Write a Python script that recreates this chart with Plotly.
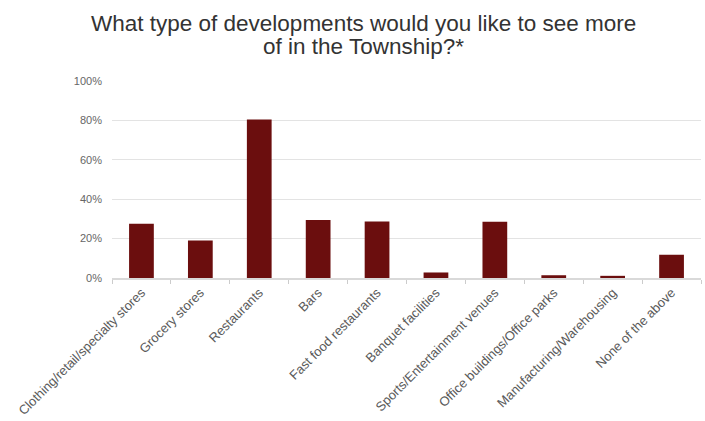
import plotly.graph_objects as go

categories = [
    "Clothing/retail/specialty stores",
    "Grocery stores",
    "Restaurants",
    "Bars",
    "Fast food restaurants",
    "Banquet facilities",
    "Sports/Entertainment venues",
    "Office buildings/Office parks",
    "Manufacturing/Warehousing",
    "None of the above",
]
shares = [0.275, 0.19, 0.805, 0.295, 0.287, 0.028, 0.285, 0.014, 0.011, 0.118]
y_ticks = [0, 0.2, 0.4, 0.6, 0.8, 1.0]
y_tick_text = ["0%", "20%", "40%", "60%", "80%", "100%"]
title_lines = [
    "What type of developments would you like to see more",
    "of in the Township?*",
]

W, H = 705, 421
M_L, M_R, M_T, M_B = 112, 4, 81, 143
plot_h = H - M_T - M_B


def paper_y(px):
    # convert a pixel row (from the top of the page) into paper coordinates
    return (H - M_B - px) / plot_h


fig = go.Figure(
    go.Bar(
        x=categories,
        y=shares,
        marker=dict(color="#6b0e0e", line=dict(width=0)),
        width=0.42,
    )
)

# two-line heading, each line placed on its own row
for line, py in zip(title_lines, [23, 46]):
    fig.add_annotation(
        text=line,
        xref="paper",
        yref="paper",
        x=(363 - M_L) / (W - M_L - M_R),
        y=paper_y(py),
        xanchor="center",
        yanchor="middle",
        showarrow=False,
        font=dict(size=22.5, color="#333333"),
    )

fig.update_layout(
    width=W,
    height=H,
    margin=dict(l=M_L, r=M_R, t=M_T, b=M_B),
    paper_bgcolor="white",
    plot_bgcolor="white",
    font=dict(family="Liberation Sans, Arial, sans-serif", color="#555555"),
    showlegend=False,
)

fig.update_xaxes(
    tickangle=-45,
    tickfont=dict(size=13, color="#5a5a5a"),
    showline=True,
    linecolor="#d9d9d9",
    linewidth=2,
    ticks="outside",
    tickson="boundaries",
    ticklen=4,
    tickcolor="#cccccc",
    showgrid=False,
)

fig.update_yaxes(
    range=[0, 1.0],
    autorange=False,
    tickvals=y_ticks,
    ticktext=y_tick_text,
    tickfont=dict(size=11, color="#666666"),
    showgrid=True,
    gridcolor="#e3e3e3",
    gridwidth=1,
    zeroline=False,
    showline=False,
    ticks="",
    ticklabelstandoff=9,
)

fig.write_html("out.html")
